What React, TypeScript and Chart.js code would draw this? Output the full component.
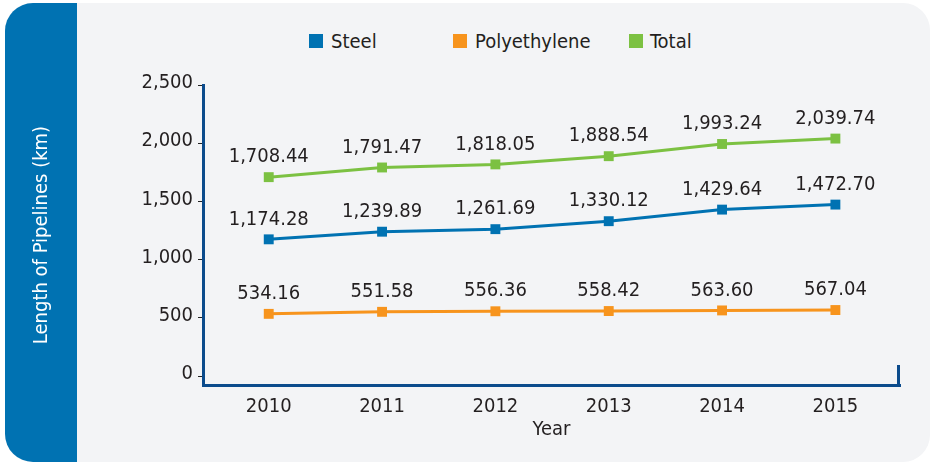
import React, { useEffect, useRef } from "react";
import { Chart, registerables } from "chart.js";

Chart.register(...registerables);

const years = [2010, 2011, 2012, 2013, 2014, 2015];
const steel = [1174.28, 1239.89, 1261.69, 1330.12, 1429.64, 1472.7];
const polyethylene = [534.16, 551.58, 556.36, 558.42, 563.6, 567.04];
const total = [1708.44, 1791.47, 1818.05, 1888.54, 1993.24, 2039.74];
const yTicks = [0, 500, 1000, 1500, 2000, 2500];
const seriesNames = ["Steel", "Polyethylene", "Total"];
const seriesColors = ["#0072b2", "#f7941d", "#7cc142"];
const yTitle = "Length of Pipelines (km)";
const xTitle = "Year";

const FAMILY = '"DejaVu Sans", sans-serif';
const STRETCH = "normal condensed";
const TEXT = "#231f20";
const NAVY = "#0b4b8c";

const fmt = (v: number) => {
  const [i, d] = v.toFixed(2).split(".");
  return i.replace(/\B(?=(\d{3})+(?!\d))/g, ",") + "." + d;
};
const fmtTick = (v: number) => String(v).replace(/\B(?=(\d{3})+(?!\d))/g, ",");

const font = (size: number) => ({ family: FAMILY, size, weight: STRETCH } as any);

const overlayPlugin = {
  id: "overlay",
  afterDatasetsDraw(chart: any) {
    const ctx = chart.ctx;
    ctx.save();
    ctx.font = `${STRETCH} 20px ${FAMILY}`;
    ctx.fillStyle = TEXT;
    ctx.textAlign = "center";
    ctx.textBaseline = "middle";
    chart.data.datasets.forEach((ds: any, i: number) => {
      const meta = chart.getDatasetMeta(i);
      meta.data.forEach((pt: any, j: number) => {
        ctx.fillText(fmt(ds.data[j].y), pt.x, pt.y - 20);
      });
    });
    const { right, bottom } = chart.chartArea;
    ctx.strokeStyle = NAVY;
    ctx.lineWidth = 3;
    ctx.beginPath();
    ctx.moveTo(right - 1.5, bottom + 1.5);
    ctx.lineTo(right - 1.5, bottom - 20);
    ctx.stroke();
    ctx.restore();
  },
};

export default function App() {
  const ref = useRef<HTMLCanvasElement | null>(null);

  useEffect(() => {
    if (!ref.current) return;
    const series = [steel, polyethylene, total];
    const chart = new Chart(ref.current, {
      type: "line",
      data: {
        datasets: series.map((s, i) => ({
          label: seriesNames[i],
          data: years.map((x, k) => ({ x, y: s[k] })),
          borderColor: seriesColors[i],
          backgroundColor: seriesColors[i],
          borderWidth: 3,
          pointStyle: "rect",
          pointRadius: 7,
          pointHoverRadius: 7,
          pointBorderWidth: 0,
          tension: 0,
          fill: false,
        })),
      },
      options: {
        animation: false,
        responsive: false,
        devicePixelRatio: 1,
        layout: { padding: { top: 85, right: 33, bottom: 0, left: 0 } },
        plugins: {
          legend: { display: false },
          tooltip: { enabled: false },
        },
        scales: {
          x: {
            type: "linear",
            min: 2009.42,
            max: 2015.57,
            afterBuildTicks: (axis: any) => {
              axis.ticks = years.map((v) => ({ value: v }));
            },
            afterFit: (scale: any) => {
              scale.height = 79;
            },
            grid: { display: false },
            border: { display: true, color: NAVY, width: 3 },
            ticks: {
              color: TEXT,
              font: font(20),
              padding: 2,
              maxRotation: 0,
              autoSkip: false,
              callback: (v: any) => String(v),
            },
            title: {
              display: true,
              text: xTitle,
              color: TEXT,
              font: font(20),
              padding: { top: 0, bottom: 22 },
            },
          },
          y: {
            type: "linear",
            min: -77,
            max: 2500,
            afterBuildTicks: (axis: any) => {
              axis.ticks = yTicks.map((v) => ({ value: v }));
            },
            afterFit: (scale: any) => {
              scale.width = 203;
            },
            grid: {
              display: true,
              drawOnChartArea: false,
              drawTicks: true,
              tickLength: 5,
              tickColor: "#222222",
              tickWidth: 1,
            },
            border: { display: true, color: NAVY, width: 3 },
            ticks: {
              color: TEXT,
              font: font(20),
              padding: 5,
              labelOffset: -2,
              callback: (v: any) => fmtTick(Number(v)),
            },
            title: {
              display: true,
              text: yTitle,
              color: "#ffffff",
              font: font(20),
              padding: { top: 30, bottom: 0 },
            },
          },
        },
      },
      plugins: [overlayPlugin],
    } as any);
    return () => chart.destroy();
  }, []);

  const legendPos = [
    { box: 309, text: 331 },
    { box: 453, text: 475 },
    { box: 629, text: 650 },
  ];

  return (
    <div style={{ position: "absolute", left: 0, top: 0, width: 933, height: 464, background: "#ffffff", overflow: "hidden" }}>
      <div style={{ position: "absolute", left: 5, top: 3, width: 925, height: 459, background: "#f3f4f6", borderRadius: 27 }} />
      <div style={{ position: "absolute", left: 5, top: 3, width: 72, height: 459, background: "#0072b2", borderRadius: "28px 0 0 28px" }} />
      {seriesNames.map((n, i) => (
        <React.Fragment key={n}>
          <div style={{ position: "absolute", left: legendPos[i].box, top: 34, width: 14, height: 14, background: seriesColors[i] }} />
          <div style={{ position: "absolute", left: legendPos[i].text, top: 29, height: 24, lineHeight: "24px", fontFamily: FAMILY, fontStretch: "condensed", fontSize: 20, color: TEXT, whiteSpace: "nowrap" }}>{n}</div>
        </React.Fragment>
      ))}
      <canvas ref={ref} width={933} height={464} style={{ position: "absolute", left: 0, top: 0, width: 933, height: 464 }} />
    </div>
  );
}
